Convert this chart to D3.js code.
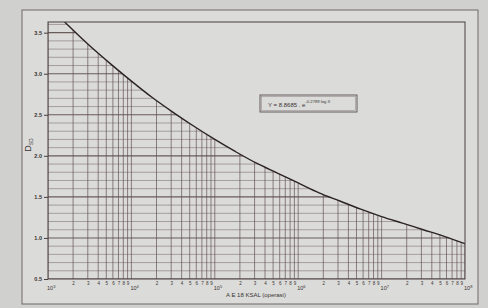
<!DOCTYPE html>
<html>
<head>
<meta charset="utf-8">
<style>
body { margin:0; padding:0; background:#cfcfcd; }
svg { display:block; font-family:"Liberation Sans", Arial, sans-serif; }
.axis path, .axis line { stroke:#4a3f3f; }
.axis text { fill:#3a3333; font-size:5.5px; }
</style>
<script src="https://cdn.jsdelivr.net/npm/d3@7"></script>
</head>
<body>
<svg id="chart" width="488" height="308"></svg>
<script>
// curve points (X, D)
var curveX = [1000, 1778, 3162, 5623, 10000, 17783, 31623, 56234, 100000, 177828, 316228,
              562341, 1000000, 1778279, 3162278, 5623413, 10000000, 17782794, 31622777, 56234133, 100000000];
var curveY = [3.84, 3.58, 3.34, 3.12, 2.91, 2.71, 2.53, 2.36, 2.20, 2.05, 1.91,
              1.79, 1.67, 1.55, 1.45, 1.35, 1.26, 1.18, 1.10, 1.02, 0.93];
var yTicks = [0.5, 1.0, 1.5, 2.0, 2.5, 3.0, 3.5];
var decadeExp = [3, 4, 5, 6, 7, 8];
var xTitle = "A E 18 KSAL (operasi)";
var eqText = "Y = 8.8685 . e";
var eqExp = "-0.2789 log X";

var svg = d3.select("#chart");
var L = 48, R = 465, T = 22, B = 279;

var x = d3.scaleLog().domain([1e3, 1e8]).range([L, R]);
var y = d3.scaleLinear().domain([0.5, 3.63]).range([B, T]);

// paper + outer frame
svg.append("rect").attr("x", 0).attr("y", 0).attr("width", 488).attr("height", 308).attr("fill", "#d0d0ce");
svg.append("rect").attr("x", 22).attr("y", 10).attr("width", 456).attr("height", 294)
  .attr("fill", "#dbdbd9").attr("stroke", "#6e6868").attr("stroke-width", 1);

var pts = curveX.map(function(v, i) { return [v, curveY[i]]; });

var defs = svg.append("defs");
defs.append("clipPath").attr("id", "plotclip")
  .append("rect").attr("x", L).attr("y", T).attr("width", R - L).attr("height", B - T);
defs.append("clipPath").attr("id", "underclip")
  .append("path")
  .attr("d", d3.area().x(function(d){ return x(d[0]); }).y0(B).y1(function(d){ return y(d[1]); })
    .curve(d3.curveMonotoneX)(pts));

var plot = svg.append("g").attr("clip-path", "url(#plotclip)");
var grid = plot.append("g").attr("clip-path", "url(#underclip)");

// horizontal grid every 0.1
var hVals = d3.range(5, 37).map(function(i) { return i / 10; });
grid.selectAll("line.h").data(hVals).enter().append("line")
  .attr("x1", L).attr("x2", R)
  .attr("y1", function(d){ return y(d); }).attr("y2", function(d){ return y(d); })
  .attr("stroke", "#5e4e4e")
  .attr("stroke-opacity", function(d){ return Math.round(d * 10) % 5 === 0 ? 0.9 : 0.55; })
  .attr("stroke-width", function(d){ return Math.round(d * 10) % 5 === 0 ? 1.1 : 0.8; });

// vertical grid at log ticks
grid.selectAll("line.v").data(x.ticks()).enter().append("line")
  .attr("x1", function(d){ return x(d); }).attr("x2", function(d){ return x(d); })
  .attr("y1", T).attr("y2", B)
  .attr("stroke", "#5e4e4e").attr("stroke-opacity", 0.75).attr("stroke-width", 0.9);

// fitted curve
plot.append("path").datum(pts)
  .attr("d", d3.line().x(function(d){ return x(d[0]); }).y(function(d){ return y(d[1]); }).curve(d3.curveMonotoneX))
  .attr("fill", "none").attr("stroke", "#2b2323").attr("stroke-width", 1.4);

// plot frame
svg.append("rect").attr("x", L).attr("y", T).attr("width", R - L).attr("height", B - T)
  .attr("fill", "none").attr("stroke", "#4a3f3f").attr("stroke-width", 1);

// y axis
var yAxis = svg.append("g").attr("class", "axis").attr("transform", "translate(" + L + ",0)")
  .call(d3.axisLeft(y).tickValues(yTicks).tickSize(4).tickPadding(2).tickFormat(d3.format(".1f")));
yAxis.select(".domain").remove();
yAxis.selectAll("text").style("font-weight", "bold");

// x axis minor digits
var xAxis = svg.append("g").attr("class", "axis").attr("transform", "translate(0," + B + ")")
  .call(d3.axisBottom(x).tickValues(x.ticks()).tickSize(0).tickPadding(3)
    .tickFormat(function(d) {
      var m = Math.round(d / Math.pow(10, Math.floor(Math.log10(d) + 1e-9)));
      return m === 1 ? "" : m;
    }));
xAxis.select(".domain").remove();
xAxis.selectAll("text").style("font-size", "4.5px");

// decade labels
var dl = svg.append("g").selectAll("text").data(decadeExp).enter().append("text")
  .attr("x", function(d){ return x(Math.pow(10, d)) - 1; })
  .attr("y", B + 11).attr("text-anchor", "start")
  .attr("fill", "#3a3333").style("font-size", "5.5px");
dl.append("tspan").text("10");
dl.append("tspan").attr("dy", -2.5).style("font-size", "4px").text(function(d){ return d; });

// axis titles
svg.append("text").attr("x", 256).attr("y", 297).attr("text-anchor", "middle")
  .attr("fill", "#3a3333").style("font-size", "6px").text(xTitle);
var yl = svg.append("text").attr("transform", "translate(31,145) rotate(-90)")
  .attr("text-anchor", "middle").attr("fill", "#3a3333").style("font-size", "9px");
yl.append("tspan").text("D");
yl.append("tspan").attr("dy", 2).style("font-size", "5px").text("SD");

// equation box
svg.append("rect").attr("x", 260).attr("y", 95).attr("width", 97).attr("height", 17)
  .attr("fill", "none").attr("stroke", "#5a5050").attr("stroke-width", 0.9);
svg.append("rect").attr("x", 261.5).attr("y", 96.5).attr("width", 94).attr("height", 14)
  .attr("fill", "none").attr("stroke", "#8a8080").attr("stroke-width", 0.5);
var eq = svg.append("text").attr("x", 268).attr("y", 106.5).attr("fill", "#3a3333").style("font-size", "6px");
eq.append("tspan").text(eqText);
eq.append("tspan").attr("dy", -3.5).style("font-size", "4.2px").text(eqExp);
</script>
</body>
</html>
